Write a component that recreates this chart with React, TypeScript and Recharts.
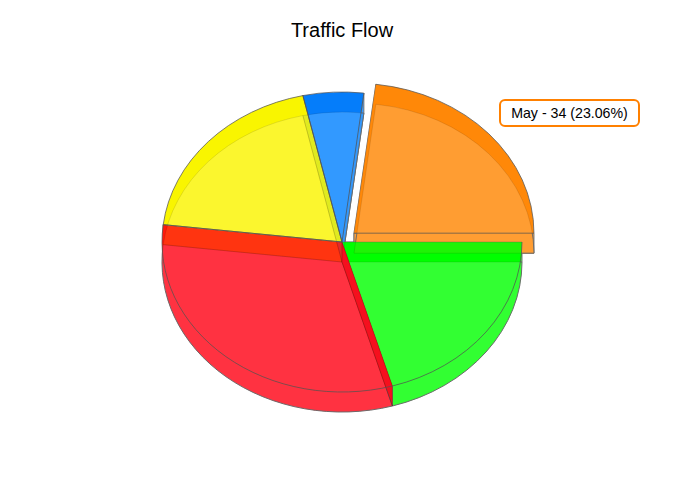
import { PieChart, Pie } from 'recharts'

const months = ['Jan', 'Feb', 'Mar', 'Apr', 'May']
const traffic = [30.2, 46.24, 29, 8, 34]

const RIM_COLORS = ['#00FF00', '#FF1A0C', '#F9F500', '#057DFA', '#FF8808']
const FACE_COLORS = ['#33FF33', '#FF3341', '#FBF62E', '#3399FF', '#FF9E33']
const EXPLODE = [0, 0, 0, 0, 16]
// how dark the two straight edges of each slice are drawn: [start, end]
const EDGE_OPACITY = [[0.35, 0], [0, 0.75], [0.75, 0.75], [0.75, 0.75], [0.2, 0.75]]

const SQUASH = 150 / 180
const DEPTH = 20

const chartData = months.map((name, i) => ({ name, value: traffic[i] }))
const total = traffic.reduce((a, b) => a + b, 0)
const calloutIndex = 4
const callout = `${months[calloutIndex]} - ${traffic[calloutIndex]} (${((traffic[calloutIndex] / total) * 100).toFixed(2)}%)`

// recharts only knows circles, so turn each sector's angles into an elliptical wedge
const geometry = (props: any, index: number, dy: number) => {
  const { cx, cy, outerRadius, startAngle, endAngle } = props
  const rad = Math.PI / 180
  const mid = ((startAngle + endAngle) / 2) * rad
  const ox = cx + EXPLODE[index] * Math.cos(mid)
  const oy = cy - EXPLODE[index] * SQUASH * Math.sin(mid) + dy
  const ry = outerRadius * SQUASH
  const at = (angle: number) => [ox + outerRadius * Math.cos(angle * rad), oy - ry * Math.sin(angle * rad)]
  const [x1, y1] = at(startAngle)
  const [x2, y2] = at(endAngle)
  const large = Math.abs(endAngle - startAngle) > 180 ? 1 : 0
  const sweep = endAngle < startAngle ? 1 : 0
  return { ox, oy, x1, y1, x2, y2, rx: outerRadius, ry, large, sweep }
}

const wedgePath = (props: any, index: number, dy: number) => {
  const g = geometry(props, index, dy)
  return `M${g.ox},${g.oy} L${g.x1},${g.y1} A${g.rx},${g.ry} 0 ${g.large} ${g.sweep} ${g.x2},${g.y2} Z`
}

// side wall along one straight edge of a slice
const wallPath = (props: any, index: number, useEnd: boolean) => {
  const g = geometry(props, index, 0)
  const x = useEnd ? g.x2 : g.x1
  const y = useEnd ? g.y2 : g.y1
  return `M${g.ox},${g.oy} L${x},${y} L${x},${y + DEPTH} L${g.ox},${g.oy + DEPTH} Z`
}

const BaseShape = (props: any) => {
  const i = props.index
  return (
    <g>
      <path d={wallPath(props, i, false)} fill={FACE_COLORS[i]} stroke="#777" strokeWidth={1} />
      <path d={wallPath(props, i, true)} fill={FACE_COLORS[i]} stroke="#777" strokeWidth={1} />
      <path d={wedgePath(props, i, DEPTH)} fill={FACE_COLORS[i]} stroke="#777" strokeWidth={1} />
    </g>
  )
}

const TopShape = (props: any) => {
  const i = props.index
  const top = wedgePath(props, i, 0)
  return (
    <g>
      <clipPath id={`top-${i}`}>
        <path d={top} />
      </clipPath>
      <path d={top} fill={RIM_COLORS[i]} />
      <path d={wedgePath(props, i, DEPTH)} fill={FACE_COLORS[i]} clipPath={`url(#top-${i})`} />
    </g>
  )
}

const TintShape = (props: any) => {
  const i = props.index
  return (
    <path
      d={wedgePath(props, i, DEPTH)}
      fill={FACE_COLORS[i]}
      fillOpacity={0.12}
      stroke="#000"
      strokeOpacity={0.1}
      strokeWidth={1}
    />
  )
}

// the red wall facing the viewer sits in front of everything else
const FrontWallShape = (props: any) => {
  const i = props.index
  if (i !== 1) return <g />
  return <path d={wallPath(props, i, false)} fill="#F5101E" stroke="#000" strokeOpacity={0.2} strokeWidth={1} />
}

const OutlineShape = (props: any) => {
  const i = props.index
  const g = geometry(props, i, 0)
  return (
    <g fill="none" stroke="#555" strokeWidth={1}>
      <path d={`M${g.x1},${g.y1} A${g.rx},${g.ry} 0 ${g.large} ${g.sweep} ${g.x2},${g.y2}`} strokeOpacity={0.75} />
      <path d={`M${g.ox},${g.oy} L${g.x1},${g.y1}`} strokeOpacity={EDGE_OPACITY[i][0]} />
      <path d={`M${g.ox},${g.oy} L${g.x2},${g.y2}`} strokeOpacity={EDGE_OPACITY[i][1]} />
    </g>
  )
}

const layers = [BaseShape, TopShape, TintShape, FrontWallShape, OutlineShape]

export default function App() {
  return (
    <div style={{ position: 'absolute', left: 0, top: 0, width: 687, height: 483, fontFamily: '"Liberation Sans", Arial, sans-serif' }}>
      <PieChart width={687} height={483} margin={{ top: 0, right: 0, bottom: 0, left: 0 }}>
        <text x={342} y={37} textAnchor="middle" fontSize={20} fill="#000" fontFamily='"Liberation Sans", Arial, sans-serif'>
          Traffic Flow
        </text>
        {layers.map((Shape, i) => (
          <Pie
            key={i}
            data={chartData}
            dataKey="value"
            nameKey="name"
            cx={342}
            cy={242}
            outerRadius={180}
            startAngle={360}
            endAngle={0}
            paddingAngle={0}
            stroke="none"
            labelLine={false}
            label={false}
            shape={Shape}
            isAnimationActive={false}
          />
        ))}
      </PieChart>
      <div
        style={{
          position: 'absolute',
          left: 499,
          top: 99,
          width: 137,
          height: 24,
          border: '2px solid #FF8000',
          borderRadius: 6,
          background: '#fff',
          fontSize: 14.2,
          lineHeight: '24px',
          textAlign: 'center',
          color: '#000',
          whiteSpace: 'nowrap',
        }}
      >
        {callout}
      </div>
    </div>
  )
}
